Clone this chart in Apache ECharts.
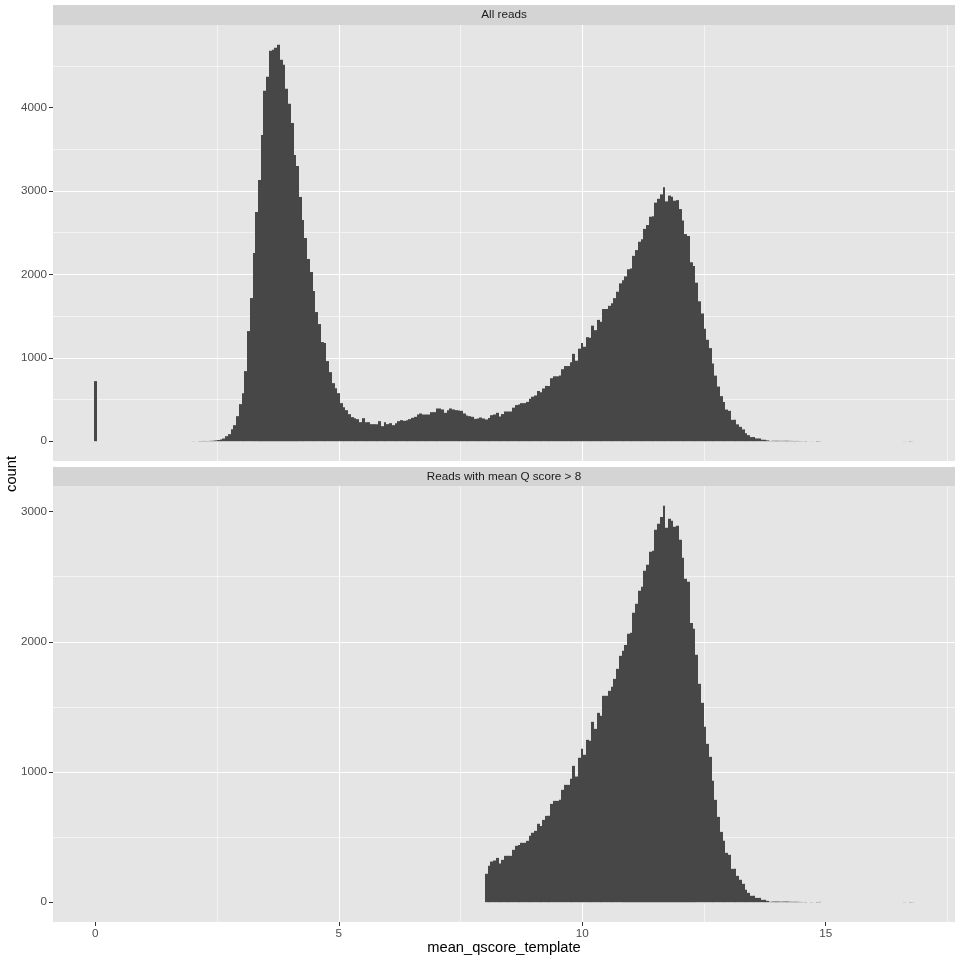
<!DOCTYPE html>
<html><head><meta charset="utf-8">
<script src="https://cdn.jsdelivr.net/npm/echarts@6/dist/echarts.min.js"></script>
<style>html,body{margin:0;padding:0;background:#fff}#c{width:960px;height:960px}</style>
</head><body><div id="c"></div>
<script>
// ---- data (bins centred at k * binWidth, k = 0..299) ----
const binWidth = 0.05614;
const allCounts = [
  720,0,0,0,0,0,0,0,0,0, 0,0,0,0,0,0,0,0,0,0,
  0,0,0,0,0,0,0,0,0,0, 0,0,0,0,0,0,1,0,2,1,
  3,2,4,6,9,14,20,32,60,84, 144,192,300,444,576,840,1320,1716,2256,2748,
  3132,3672,4200,4368,4680,4692,4716,4752,4572,4512, 4224,4044,3816,3432,3300,2928,2652,2436,2184,2028,
  1800,1548,1404,1188,1176,960,828,696,636,576, 456,408,372,324,288,276,264,228,276,228,
  228,204,204,204,240,180,228,204,216,192, 216,240,252,244,252,264,280,292,320,332,
  320,320,320,348,348,392,392,380,340,372, 392,380,372,368,364,332,308,300,292,268,
  272,284,272,260,279,312,320,340,297,325, 356,356,356,402,433,440,456,456,471,510,
  533,548,602,586,632,663,663,755,778,778, 786,863,901,901,947,1047,965,1109,1178,1132,
  1247,1239,1385,1331,1454,1431,1585,1585,1623,1654, 1715,1792,1892,1930,1976,2061,2069,2222,2291,2391,
  2422,2545,2591,2691,2698,2860,2906,2959,3044,2875, 2944,2929,2883,2890,2783,2645,2483,2460,2145,2099,
  1900,1677,1531,1347,1216,1116,932,786,655,540, 471,379,364,256,256,202,172,141,95,72,
  49,49,33,33,18,18,10,3,5,5, 5,4,5,5,4,3,3,3,2,1,
  1,0,1,0,2,2,0,0,0,0, 0,0,0,0,0,0,0,0,0,0,
  0,0,0,0,0,0,0,0,0,0, 0,0,0,0,0,0,1,0,1,1
];
const q8Start = 143;
const q8Counts = [
  218,279,312,320,340,297,325, 356,356,356,402,433,440,456,456,471,510,
  533,548,602,586,632,663,663,755,778,778, 786,863,901,901,947,1047,965,1109,1178,1132,
  1247,1239,1385,1331,1454,1431,1585,1585,1623,1654, 1715,1792,1892,1930,1976,2061,2069,2222,2291,2391,
  2422,2545,2591,2691,2698,2860,2906,2959,3044,2875, 2944,2929,2883,2890,2783,2645,2483,2460,2145,2099,
  1900,1677,1531,1347,1216,1116,932,786,655,540, 471,379,364,256,256,202,172,141,95,72,
  49,49,33,33,18,18,10,3,5,5, 5,4,5,5,4,3,3,3,2,1,
  1,0,1,0,2,2,0,0,0,0, 0,0,0,0,0,0,0,0,0,0,
  0,0,0,0,0,0,0,0,0,0, 0,0,0,0,0,0,1,0,1,1
];
const panelTitles = ['All reads', 'Reads with mean Q score > 8'];
const xTicks = [0, 5, 10, 15];
const yTicksAll = [0, 1000, 2000, 3000, 4000];
const yTicksQ8 = [0, 1000, 2000, 3000];
const xTitle = 'mean_qscore_template';
const yTitle = 'count';

// ---- layout ----
const FONT = '"Liberation Sans", Arial, Helvetica, sans-serif';
const PANEL_BG = '#E5E5E5', STRIP_BG = '#D4D4D4';
const L = 53, R = 955, W = R - L;
const P1 = {top: 25, h: 436}, P2 = {top: 486, h: 436};
const S1 = {top: 5, h: 20}, S2 = {top: 467, h: 19};

function toData(counts, start) {
  const out = [];
  counts.forEach((c, i) => { if (c > 0) out.push([(start + i) * binWidth, c]); });
  return out;
}
const nBins = allCounts.length;
const dxMin = -binWidth / 2, dxMax = (nBins - 0.5) * binWidth;
const xSpan = dxMax - dxMin;
const xMin = dxMin - 0.05 * xSpan, xMax = dxMax + 0.05 * xSpan;
const yMaxAll = Math.max(...allCounts), yMaxQ8 = Math.max(...q8Counts);

function renderItem(params, api) {
  const x = api.value(0), y = api.value(1);
  const p0 = api.coord([x - binWidth / 2, 0]);
  const p1 = api.coord([x + binWidth / 2, y]);
  const xl = Math.round(p0[0]), xr = Math.round(p1[0]);
  return {type: 'rect', shape: {x: xl, y: p1[1], width: xr - xl, height: p0[1] - p1[1]},
          style: {fill: '#474747'}};
}

const plainFmt = v => String(v);

function mkX(gi, show) {
  const ax = {
    type: 'value', gridIndex: gi, min: xMin, max: xMax, splitNumber: 4,
    axisLine: {show: false, onZero: false},
    axisTick: {show: show, length: 4, customValues: xTicks, lineStyle: {color: '#333333', width: 1}},
    axisLabel: {show: show, customValues: xTicks, formatter: plainFmt, color: '#4D4D4D', fontSize: 11.7, margin: 6, fontFamily: FONT},
    splitLine: {show: true, showMinLine: false, showMaxLine: false, lineStyle: {color: '#FFFFFF', width: 1.1}},
    minorTick: {show: false, splitNumber: 2},
    minorSplitLine: {show: true, lineStyle: {color: '#FFFFFF', width: 0.55}}
  };
  if (show) {
    ax.name = xTitle; ax.nameLocation = 'middle'; ax.nameGap = 18;
    ax.nameTextStyle = {color: '#000000', fontSize: 14.7, fontFamily: FONT};
  }
  return ax;
}
function mkY(gi, ymax, ticks, split) {
  return {
    type: 'value', gridIndex: gi, min: -0.05 * ymax, max: 1.05 * ymax, splitNumber: split,
    axisLine: {show: false, onZero: false},
    axisTick: {show: true, length: 4, customValues: ticks, lineStyle: {color: '#333333', width: 1}},
    axisLabel: {customValues: ticks, formatter: plainFmt, color: '#4D4D4D', fontSize: 11.7, margin: 6, fontFamily: FONT},
    splitLine: {show: true, showMinLine: false, showMaxLine: false, lineStyle: {color: '#FFFFFF', width: 1.1}},
    minorTick: {show: false, splitNumber: 2},
    minorSplitLine: {show: true, lineStyle: {color: '#FFFFFF', width: 0.55}}
  };
}

const chart = echarts.init(document.getElementById('c'), null, {renderer: 'canvas'});
chart.setOption({
  animation: false,
  backgroundColor: '#FFFFFF',
  grid: [
    {left: L, top: P1.top, width: W, height: P1.h, show: true, backgroundColor: PANEL_BG, borderWidth: 0},
    {left: L, top: P2.top, width: W, height: P2.h, show: true, backgroundColor: PANEL_BG, borderWidth: 0}
  ],
  xAxis: [mkX(0, false), mkX(1, true)],
  yAxis: [mkY(0, yMaxAll, yTicksAll, 5), mkY(1, yMaxQ8, yTicksQ8, 3)],
  series: [
    {type: 'custom', xAxisIndex: 0, yAxisIndex: 0, renderItem: renderItem, data: toData(allCounts, 0), clip: true},
    {type: 'custom', xAxisIndex: 1, yAxisIndex: 1, renderItem: renderItem, data: toData(q8Counts, q8Start), clip: true}
  ],
  graphic: [
    {type: 'rect', shape: {x: L, y: S1.top, width: W, height: S1.h}, style: {fill: STRIP_BG}},
    {type: 'text', x: L + W / 2, y: S1.top + S1.h / 2,
     style: {text: panelTitles[0], fill: '#1A1A1A', font: '11.7px ' + FONT, align: 'center', verticalAlign: 'middle'}},
    {type: 'rect', shape: {x: L, y: S2.top, width: W, height: S2.h}, style: {fill: STRIP_BG}},
    {type: 'text', x: L + W / 2, y: S2.top + S2.h / 2,
     style: {text: panelTitles[1], fill: '#1A1A1A', font: '11.7px ' + FONT, align: 'center', verticalAlign: 'middle'}},
    {type: 'text', x: 12, y: 474, rotation: Math.PI / 2,
     style: {text: yTitle, fill: '#000000', font: '14.7px ' + FONT, align: 'center', verticalAlign: 'middle'}}
  ]
});
</script>
</body></html>
